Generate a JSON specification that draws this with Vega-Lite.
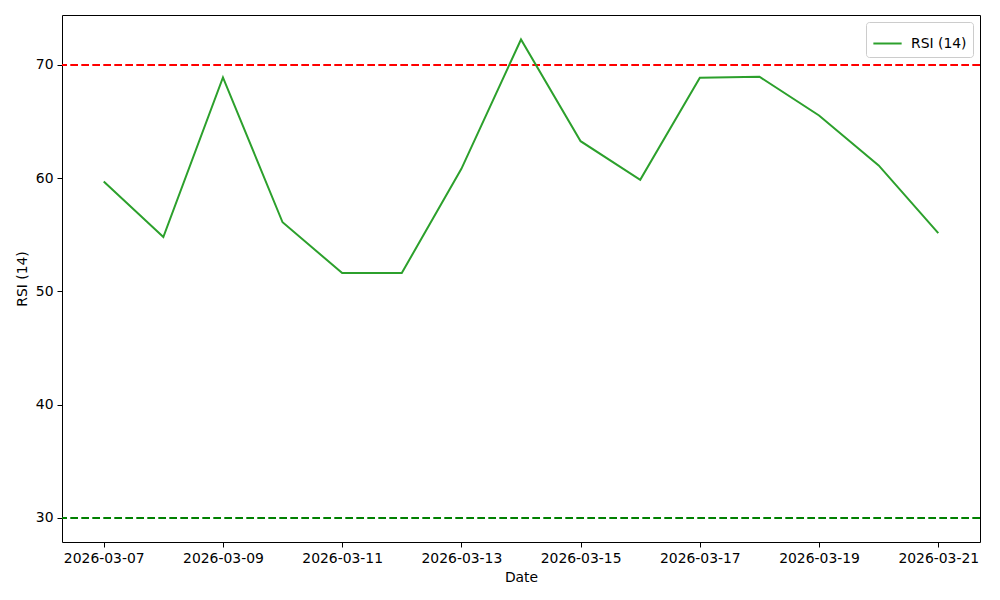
{
  "$schema": "https://vega.github.io/schema/vega-lite/v6.json",
  "width": 918,
  "height": 527,
  "autosize": {"type": "none"},
  "padding": {"left": 62, "top": 15, "right": 20, "bottom": 58},
  "background": "white",
  "config": {
    "view": {"stroke": "black", "strokeWidth": 1},
    "font": "DejaVu Sans",
    "axis": {
      "grid": false,
      "domain": false,
      "tickColor": "black",
      "tickSize": 5,
      "tickWidth": 1,
      "labelFont": "DejaVu Sans",
      "labelFontSize": 13.9,
      "labelColor": "black",
      "labelPadding": 4,
      "titleFont": "DejaVu Sans",
      "titleFontSize": 13.9,
      "titleFontWeight": "normal",
      "titleColor": "black"
    }
  },
  "datasets": {
    "rsi": [
      {"date": "2026-03-07", "rsi": 59.7},
      {"date": "2026-03-08", "rsi": 54.81},
      {"date": "2026-03-09", "rsi": 68.9},
      {"date": "2026-03-10", "rsi": 56.11},
      {"date": "2026-03-11", "rsi": 51.63},
      {"date": "2026-03-12", "rsi": 51.63},
      {"date": "2026-03-13", "rsi": 60.83},
      {"date": "2026-03-14", "rsi": 72.25},
      {"date": "2026-03-15", "rsi": 63.27},
      {"date": "2026-03-16", "rsi": 59.86},
      {"date": "2026-03-17", "rsi": 68.87},
      {"date": "2026-03-18", "rsi": 68.96},
      {"date": "2026-03-19", "rsi": 65.54},
      {"date": "2026-03-20", "rsi": 61.13},
      {"date": "2026-03-21", "rsi": 55.15}
    ],
    "levels": [
      {"level": 70, "kind": "overbought"},
      {"level": 30, "kind": "oversold"}
    ]
  },
  "layer": [
    {
      "data": {"name": "levels"},
      "mark": {"type": "rule", "strokeDash": [7.7, 3.3], "strokeWidth": 2},
      "encoding": {
        "y": {"field": "level", "type": "quantitative", "scale": {"domain": [27.88, 74.41], "nice": false, "zero": false}},
        "stroke": {
          "field": "kind",
          "type": "nominal",
          "scale": {"domain": ["overbought", "oversold"], "range": ["#ff0000", "#008000"]},
          "legend": null
        }
      }
    },
    {
      "data": {"name": "rsi"},
      "mark": {"type": "line", "strokeWidth": 2, "clip": true},
      "encoding": {
        "x": {
          "field": "date",
          "type": "temporal",
          "title": "Date",
          "scale": {"type": "utc", "domain": ["2026-03-06T07:12:00Z", "2026-03-21T16:48:00Z"], "nice": false},
          "axis": {
            "values": ["2026-03-07T00:00:00Z", "2026-03-09T00:00:00Z", "2026-03-11T00:00:00Z", "2026-03-13T00:00:00Z", "2026-03-15T00:00:00Z", "2026-03-17T00:00:00Z", "2026-03-19T00:00:00Z", "2026-03-21T00:00:00Z"],
            "labelExpr": "utcFormat(datum.value, '%Y-%m-%d')",
            "labelFlush": false,
            "labelOverlap": false,
            "titlePadding": 6
          }
        },
        "y": {
          "field": "rsi",
          "type": "quantitative",
          "title": "RSI (14)",
          "scale": {"domain": [27.88, 74.41], "nice": false, "zero": false},
          "axis": {"values": [30, 40, 50, 60, 70], "titlePadding": 6}
        },
        "color": {
          "datum": "RSI (14)",
          "type": "nominal",
          "scale": {"range": ["#2ca02c"]},
          "legend": {
            "title": null,
            "orient": "top-right",
            "offset": 7,
            "symbolType": "stroke",
            "symbolSize": 800,
            "symbolStrokeWidth": 2,
            "labelFontSize": 13.9,
            "labelFont": "DejaVu Sans",
            "labelColor": "black",
            "labelOffset": 8,
            "strokeColor": "#cccccc",
            "cornerRadius": 3,
            "padding": 6,
            "fillColor": "white"
          }
        }
      }
    }
  ],
  "resolve": {"scale": {"color": "independent"}}
}
